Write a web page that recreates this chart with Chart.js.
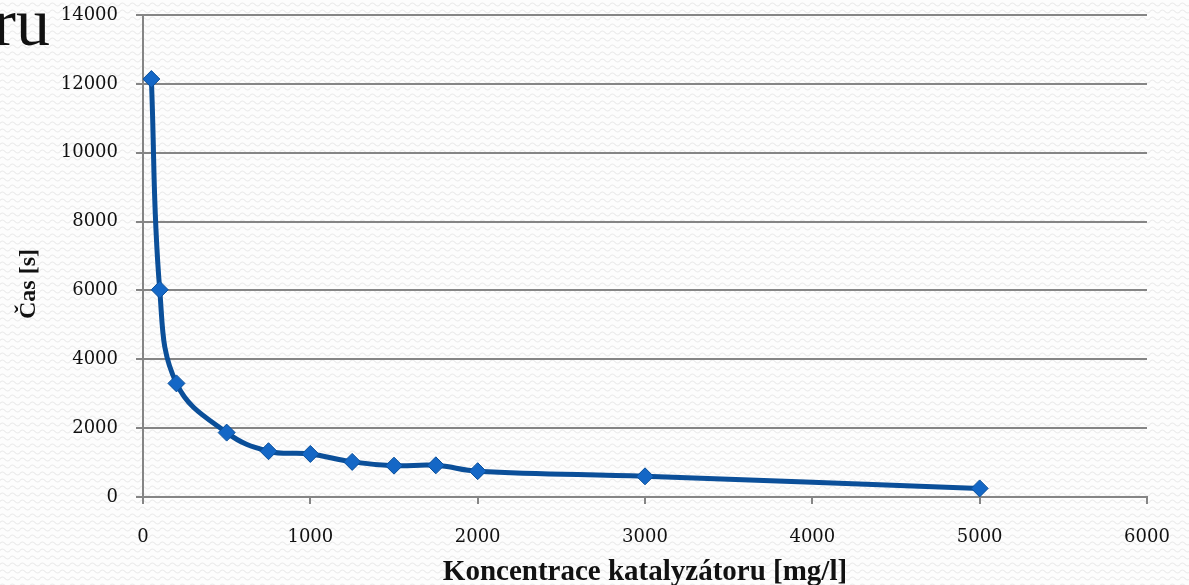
<!DOCTYPE html>
<html><head><meta charset="utf-8">
<script src="https://cdn.jsdelivr.net/npm/chart.js@4"></script>
<style>
html,body{margin:0;padding:0;width:1189px;height:585px;overflow:hidden;}
body{background-color:#fdfdfd;background-image:url("data:image/svg+xml,%3Csvg xmlns='http://www.w3.org/2000/svg' width='10' height='7'%3E%3Cpath d='M0 4.5 Q2.5 1.5 5 4.5 T10 4.5' fill='none' stroke='%23e9e9e9' stroke-width='1.1'/%3E%3C/svg%3E");background-repeat:repeat;}
#wrap{position:relative;width:1189px;height:585px;}
#ru{position:absolute;right:1139px;top:-12px;font-family:'Liberation Serif',serif;font-size:68px;line-height:1;white-space:nowrap;color:#111;}
canvas{position:absolute;left:0;top:0;}
</style></head>
<body><div id="wrap"><div id="ru">ru</div><canvas id="c" width="1189" height="585"></canvas></div>
<script>
const concentrations = [50, 100, 200, 500, 750, 1000, 1250, 1500, 1750, 2000, 3000, 5000];
const times = [12140, 6020, 3300, 1870, 1330, 1250, 1020, 910, 920, 750, 600, 250];
const xTicks = [0, 1000, 2000, 3000, 4000, 5000, 6000];
const yTicks = [0, 2000, 4000, 6000, 8000, 10000, 12000, 14000];
const xTitle = 'Koncentrace katalyzátoru [mg/l]';
const yTitle = 'Čas [s]';

const yTitlePlugin = {
  id: 'yTitle',
  afterDraw(chart) {
    const ctx = chart.ctx;
    ctx.save();
    ctx.translate(29, 284);
    ctx.rotate(-Math.PI / 2);
    ctx.font = 'bold 24px "Liberation Serif"';
    ctx.fillStyle = '#111';
    ctx.textAlign = 'center';
    ctx.textBaseline = 'middle';
    ctx.fillText(yTitle, 0, 0);
    ctx.restore();
  }
};

new Chart(document.getElementById('c'), {
  type: 'scatter',
  data: {
    datasets: [{
      data: concentrations.map((x, i) => ({x, y: times[i]})),
      showLine: true,
      borderColor: '#0b4f99',
      borderWidth: 5,
      tension: 0.4,
      pointStyle: 'rectRot',
      pointRadius: 8.5,
      pointBackgroundColor: '#1467c6',
      pointBorderColor: '#0b4f99',
      pointBorderWidth: 1
    }]
  },
  options: {
    responsive: false,
    animation: false,
    layout: {padding: {top: 15, right: 42, left: 0, bottom: 0}},
    plugins: {legend: {display: false}, tooltip: {enabled: false}},
    scales: {
      x: {
        type: 'linear', min: 0, max: 6000,
        afterBuildTicks: s => { s.ticks = xTicks.map(v => ({value: v})); },
        afterFit: s => { s.height = 88; s.paddingLeft = 0; s.paddingRight = 0; },
        grid: {drawOnChartArea: false, drawTicks: true, tickLength: 7, color: '#858585', lineWidth: 2},
        border: {display: true, color: '#858585', width: 2},
        ticks: {font: {family: 'DejaVu Serif', size: 18}, color: '#111', padding: 23, maxRotation: 0, callback: v => String(v)},
        title: {display: true, text: xTitle, font: {family: 'Liberation Serif', size: 29, weight: 'bold', lineHeight: 0.85}, color: '#111', padding: {top: 0, bottom: 0}}
      },
      y: {
        type: 'linear', min: 0, max: 14000,
        afterBuildTicks: s => { s.ticks = yTicks.map(v => ({value: v})); },
        afterFit: s => { s.width = 143; s.paddingTop = 0; s.paddingBottom = 0; },
        grid: {drawTicks: true, tickLength: 7, color: '#858585', lineWidth: 2},
        border: {display: true, color: '#858585', width: 2},
        ticks: {font: {family: 'DejaVu Serif', size: 18}, color: '#111', padding: 18, callback: v => String(v)}
      }
    }
  },
  plugins: [yTitlePlugin]
});
</script></body></html>
